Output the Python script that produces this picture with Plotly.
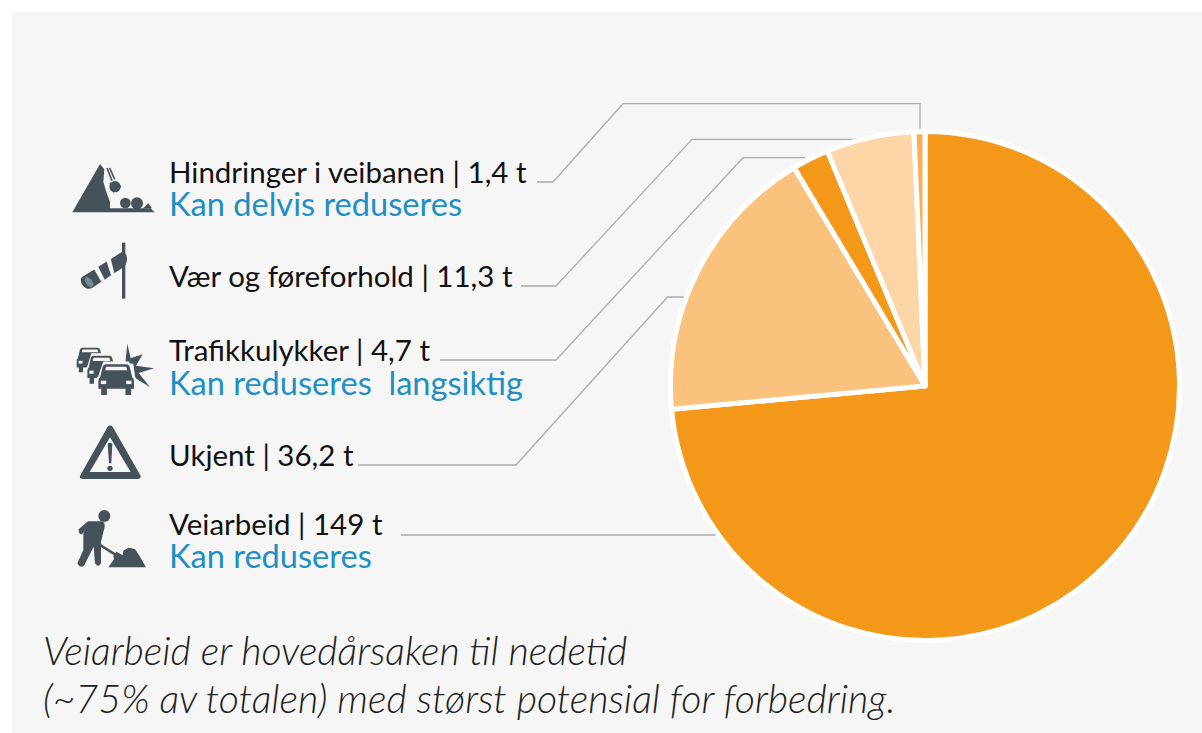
import re
import plotly.graph_objects as go

W, H = 1202, 733

categories = ["Veiarbeid", "Ukjent", "Trafikkulykker", "Vær og føreforhold", "Hindringer i veibanen"]
hours = [149, 36.2, 4.7, 11.3, 1.4]
slice_colors = ["#F4981A", "#FBC27D", "#F4981A", "#FDD6A8", "#F9AE55"]

labels_black = ["Hindringer i veibanen | 1,4 t", "Vær og føreforhold | 11,3 t", "Trafikkulykker | 4,7 t",
                "Ukjent | 36,2 t", "Veiarbeid | 149 t"]
labels_blue = ["Kan delvis reduseres", "Kan reduseres  langsiktig", "Kan reduseres"]
caption = ["Veiarbeid er hovedårsaken til nedetid", "(~75% av totalen) med størst potensial for forbedring."]

BG = "#F6F6F6"
ICON = "#46525A"
LINE = "#ADADAD"
BLUE = "#1F8FC4"


def px(x):
    return x / W


def py(y):
    return 1 - y / H


def path(d, ox=0.0, oy=0.0, s=1.0, sy=None):
    """Path in pixel coordinates -> path in paper coordinates."""
    sy = s if sy is None else sy
    toks = re.findall(r"[MLCQZ]|-?\d+\.?\d*", d)
    out, i = [], 0
    while i < len(toks):
        t = toks[i]
        if t in "MLCQZ":
            out.append(t)
            i += 1
        else:
            x = ox + float(t) * s
            y = oy + float(toks[i + 1]) * sy
            out.append(f"{px(x):.5f},{py(y):.5f}")
            i += 2
    return " ".join(out)


shapes = []
shapes.append(dict(type="rect", xref="paper", yref="paper", x0=px(12), x1=1, y0=0, y1=py(12),
                   fillcolor=BG, line_width=0, layer="below"))

# leader lines
leaders = [
    "M537 182 L553 182 L623 103.7 L920 103.7 L920 134",
    "M521 286 L556 286 L692 139.3 L862 139.3",
    "M440 360 L556 360 L743 157.7 L805 157.7",
    "M358 465 L516 465 L667.5 297 L684 297",
    "M401 535 L718 535",
]
for d in leaders:
    shapes.append(dict(type="path", xref="paper", yref="paper", path=path(d),
                       line=dict(color=LINE, width=1.3), layer="below"))


def fill(d, ox, oy, color=ICON, s=1 / 3, sy=None):
    shapes.append(dict(type="path", xref="paper", yref="paper", path=path(d, ox, oy, s, sy),
                       fillcolor=color, line_width=0, layer="below"))


def blob(cx, cy, r, ox, oy, color=ICON, s=1 / 3):
    x0, x1 = ox + (cx - r) * s, ox + (cx + r) * s
    y0, y1 = oy + (cy - r) * s, oy + (cy + r) * s
    shapes.append(dict(type="circle", xref="paper", yref="paper", x0=px(x0), x1=px(x1), y0=py(y1), y1=py(y0),
                       fillcolor=color, line_width=0, layer="below"))


def stroke(d, ox, oy, w, color=ICON, s=1 / 3):
    shapes.append(dict(type="path", xref="paper", yref="paper", path=path(d, ox, oy, s),
                       line=dict(color=color, width=w), layer="below"))


# mountain with falling rocks (zoom 1 coordinates)
ox, oy = 60, 140
fill("M120 72 L37 217 L284 217 L272 205 L150 205 L150 185 L137 150 L130 125 L133 88 Z", ox, oy)
blob(165, 140, 17, ox, oy)
fill("M148 128 L172 128 L184 140 L160 158 Z", ox, oy)
stroke("M141 84 L156 122", ox, oy, 1.6)
stroke("M149 84 L164 118", ox, oy, 1.6)
blob(196, 189, 16, ox, oy)
blob(231, 190, 18, ox, oy)
fill("M250 205 L265 190 L276 205 Z", ox, oy)

# windsock
fill("M186 308 L196 308 L196 476 L186 476 Z", ox, oy)
fill("M190 333 Q203 345 201 360 Q200 372 192 380 L163 399.5 L152.5 356.7 Z", ox, oy)
fill("M140 364.6 L153 406 L134 419 L115 380.4 Z", ox, oy)
fill("M102.5 388.3 L124 425.5 L95 445 Q75 450 65 432 Q60 418 65 412 Z", ox, oy)
fill("M78 410 Q92 412 100 430 Q100 442 92 442 Q78 436 74 420 Z", ox, oy, "#7D878E")

# warning triangle (zoom 2 coordinates)
ox, oy = 60, 400
fill("M150 76 Q156 76 160 84 L241 226 Q245 236 234 237 L68 237 Q56 236 61 226 L141 84 Q145 76 150 76 Z", ox, oy)
fill("M150 112 L89 216 L212 216 Z", ox, oy, BG)
fill("M143 132 Q150 124 157 132 L154 190 L147 190 Z", ox, oy)
blob(150, 205, 8, ox, oy)

# worker
blob(133, 348, 18, ox, oy)
fill("M84 364 L124 364 Q136 366 134 380 L123 425 L123 490 Q115 505 105 490 L101 440 L72 497 Q60 506 52 490 "
     "L70 450 L70 398 L78 385 L66 403 Q54 403 56 388 Z", ox, oy)
stroke("M106 426 L166 464", ox, oy, 2.6)
fill("M145 502 L162 478 L160 468 L170 455 L188 466 L190 452 L205 443 L225 447 L240 470 L258 502 Z", ox, oy)

# cars and burst (zoom 4 coordinates)
ox, oy = 70, 335


def car(x0, y0, w, h):
    sx, sy = w / 100 / 3, h / 90 / 3
    cx, cy = ox + x0 / 3, oy + y0 / 3
    halo = "M14 -8 L86 -8 L100 34 L110 46 L110 96 L-10 96 L-10 46 L0 34 Z"
    fill(halo, cx, cy, BG, sx, sy)
    body = ("M20 0 L80 0 Q86 1 88 8 L95 38 Q100 42 100 50 L100 72 L92 72 L92 90 L76 90 L76 72 L24 72 L24 90 "
            "L8 90 L8 72 L0 72 L0 50 Q0 42 5 38 L12 8 Q14 1 20 0 Z")
    fill(body, cx, cy, ICON, sx, sy)
    fill("M22 7 L78 7 L81 17 L19 17 Z", cx, cy, BG, sx, sy)
    fill("M7 48 L22 48 L22 58 L7 58 Z", cx, cy, BG, sx, sy)
    fill("M78 48 L93 48 L93 58 L78 58 Z", cx, cy, BG, sx, sy)


fill("M172 26 L182 70 L218 58 L198 92 L252 100 L206 114 L240 156 L196 130 L190 86 L166 84 Z", ox, oy)
car(20, 38, 80, 74)
car(52, 62, 85, 84)
car(85, 88, 107, 92)

annotations = []


def text(x, y, s, color="#111111", size=29.5, family="Lato", weight=400, style="normal"):
    annotations.append(dict(x=px(x), y=py(y), xref="paper", yref="paper", text=s, showarrow=False,
                            xanchor="left", yanchor="middle", align="left",
                            font=dict(family=family, size=size, color=color, weight=weight, style=style)))


rows_black_y = [171, 275, 349, 454, 523]
rows_blue_y = [203, 382, 555]
for s, y in zip(labels_black, rows_black_y):
    text(167, y, s)
for s, y in zip(labels_blue, rows_blue_y):
    text(167, y, s, color=BLUE, size=32.6)
text(41, 649, caption[0], size=39.3, weight=300, style="italic", color="#222222")
text(41, 697, caption[1], size=39.3, weight=300, style="italic", color="#222222")

pie = go.Pie(
    labels=categories, values=hours, sort=False, direction="clockwise", rotation=0,
    marker=dict(colors=slice_colors, line=dict(color="white", width=5)),
    textinfo="none", hoverinfo="label+value", showlegend=False,
    domain=dict(x=[px(670.5), px(1179.5)], y=[py(640.5), py(131.5)]),
)

fig = go.Figure(pie)
fig.update_layout(width=W, height=H, margin=dict(l=0, r=0, t=0, b=0), paper_bgcolor="white",
                  shapes=shapes, annotations=annotations, autosize=False)
fig.write_html("out.html", post_script="document.body.style.margin='0';document.body.style.overflow='hidden';",
               config=dict(displayModeBar=False))
